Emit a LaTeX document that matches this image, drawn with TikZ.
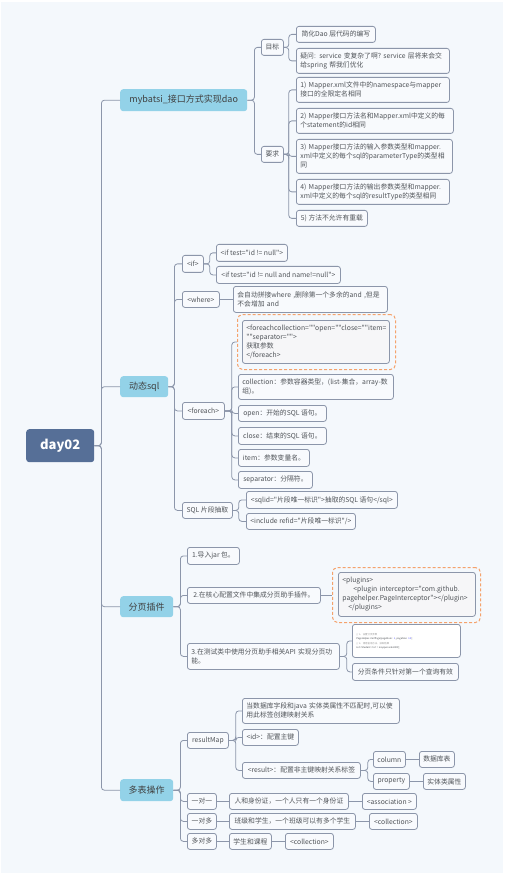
\documentclass[tikz,border=0pt]{standalone}
\usepackage{fontspec}
\setmainfont{Noto Sans CJK SC}[Ligatures=TeXOff]
\definecolor{bgc}{HTML}{F4F8FC}
\definecolor{linec}{HTML}{8C96AA}
\definecolor{boxf}{HTML}{F8FAFD}
\definecolor{codef}{HTML}{F6F6F8}
\definecolor{txtc}{HTML}{505459}
\definecolor{lonec}{HTML}{93D2E8}
\definecolor{dayc}{HTML}{566F97}
\definecolor{orc}{HTML}{F4A26C}
\newcommand\fsa{\fontsize{6.8}{9}\selectfont}
\newcommand\fsb{\fontsize{9}{11}\selectfont}
\newcommand\fsc{\fontsize{13}{15}\selectfont\bfseries}
\newcommand\fst{\fontsize{2.4}{4}\selectfont}
\begin{document}
\begin{tikzpicture}[x=1pt,y=-1pt,
  box/.style={draw=linec, fill=boxf, rounded corners=2.5pt, line width=0.8pt, text=txtc,
    font=\fsa, inner xsep=4pt, inner ysep=1pt, anchor=north west, align=left},
  codebox/.style={box, fill=codef},
  dashbox/.style={draw=orc, dashed, line width=1pt, rounded corners=5pt, dash pattern=on 3pt off 2pt},
  lone/.style={fill=lonec, rounded corners=3pt, text=black!75, font=\fsb, anchor=north west, inner sep=0pt},
  root/.style={fill=dayc, rounded corners=3pt, text=white, font=\fsc, anchor=north west, inner sep=0pt},
  conn/.style={draw=linec, line width=0.8pt, rounded corners=3pt}]
\useasboundingbox (0,0) rectangle (504,874);
\fill[white] (0,0) rectangle (504,874);
\fill[bgc] (1,2) rectangle (503,873);

% root and first level
\node[root, minimum width=68pt, minimum height=33pt] (day) at (26,429) {day02};
\node[lone, minimum width=127pt, minimum height=22pt] (mb) at (120,89) {mybatsi\_接口方式实现dao};
\node[lone, minimum width=48pt, minimum height=21pt] (dsql) at (120,376) {动态sql};
\node[lone, minimum width=53pt, minimum height=21pt] (fy) at (120,596) {分页插件};
\node[lone, minimum width=53pt, minimum height=22pt] (db) at (120,779) {多表操作};

% mybatis branch
\node[box, minimum width=22pt, minimum height=16pt, inner xsep=0pt] (goal) at (261,39) {目标};
\node[box, minimum width=22pt, minimum height=16pt, inner xsep=0pt] (req) at (261,146) {要求};
\node[box, minimum width=79pt, minimum height=16pt] (g1) at (296,26) {简化Dao 层代码的编写};
\node[box, text width=145pt, minimum height=25pt] (g2) at (296,48) {疑问: service\ 变复杂了啊?\ service 层将来会交\\给spring 帮我们优化};
\node[box, text width=145pt, minimum height=25pt] (r1) at (296,77) {1)~Mapper.xml文件中的namespace与mapper\\接口的全限定名相同};
\node[box, text width=149pt, minimum height=25pt] (r2) at (296,108) {2)~Mapper接口方法名和Mapper.xml中定义的每\\个statement的id相同};
\node[box, text width=148pt, minimum height=34pt] (r3) at (296,139) {3)~Mapper接口方法的输入参数类型和mapper.\\xml中定义的每个sql的parameterType的类型相\\同};
\node[box, text width=145pt, minimum height=25pt] (r4) at (296,179) {4)~Mapper接口方法的输出参数类型和mapper.\\xml中定义的每个sql的resultType的类型相同};
\node[box, minimum width=71pt, minimum height=16pt] (r5) at (296,210) {5) 方法不允许有重载};

% dynamic sql branch
\node[box, minimum width=21pt, minimum height=17pt, inner xsep=0pt] (ifn) at (182,255) {<if>};
\node[box, minimum width=71pt, minimum height=17pt] (if1) at (216,244) {<if test="id != null">};
\node[box, minimum width=124pt, minimum height=17pt] (if2) at (216,266) {<if test="id != null and name!=null">};
\node[box, minimum width=37pt, minimum height=16pt] (wh) at (182,291) {<where>};
\node[box, text width=146pt, minimum height=26pt] (wht) at (233,286) {会自动拼接where\ ,删除第一个多余的and ,但是\\不会增加 and};
\node[box, minimum width=42pt, minimum height=17pt, inner xsep=0pt] (fe) at (182,402) {<foreach>};
\node[codebox, text width=139pt, minimum height=43pt] (fcode) at (242,320) {<foreachcollection=""open=""close=""item=\\""separator="">\\获取参数\\</foreach>};
\node[dashbox, minimum width=158pt, minimum height=55pt, anchor=north west] (fcodeo) at (237,314) {};
\node[box, text width=147pt, minimum height=25pt] (fcol) at (238,374) {collection：参数容器类型，(list-集合，array-数\\组)。};
\node[box, minimum width=88pt, minimum height=16pt] (fopen) at (238,405) {open：开始的SQL 语句。};
\node[box, minimum width=88pt, minimum height=17pt] (fclose) at (238,427) {close：结束的SQL 语句。};
\node[box, minimum width=71pt, minimum height=17pt] (fitem) at (238,449) {item：参数变量名。};
\node[box, minimum width=74pt, minimum height=17pt] (fsep) at (238,471) {separator：分隔符。};
\node[box, minimum width=50pt, minimum height=16pt, inner xsep=0pt] (sqln) at (182,502) {SQL 片段抽取};
\node[box, minimum width=151pt, minimum height=17pt] (sql1) at (246,491) {<sqlid="片段唯一标识">抽取的SQL 语句</sql>};
\node[box, minimum width=109pt, minimum height=16pt] (sql2) at (246,513) {<include refid="片段唯一标识"/>};

% paging branch
\node[box, minimum width=52pt, minimum height=17pt] (p1) at (187,547) {1.导入jar 包。};
\node[box, minimum width=133pt, minimum height=16pt] (p2) at (187,587) {2.在核心配置文件中集成分页助手插件。};
\node[codebox, text width=129pt, minimum height=44pt] (plug) at (338,572) {<plugins>\\\hspace*{11pt}<plugin interceptor="com.github.\\pagehelper.PageInterceptor"></plugin>\\\hspace*{6pt}</plugins>};
\node[dashbox, minimum width=148pt, minimum height=55pt, anchor=north west] (plugo) at (332,567) {};
\node[box, text width=144pt, minimum height=26pt] (p3) at (187,643) {3.在测试类中使用分页助手相关API 实现分页功\\能。};
\node[box, fill=white, text width=100pt, minimum height=33pt, font=\fst, align=left] (pimg) at (352,624)
  {\textcolor{black!40}{// 1、设置分页参数}\\PageHelper.startPage(pageNum: \textcolor{blue!70}{1}, pageSize: \textcolor{blue!70}{10});\\[1pt]\textcolor{black!40}{// 2、调用查询方法，获取结果}\\List<Student> list = mapper.selectAll();};
\node[box, minimum width=106pt, minimum height=17pt] (pnote) at (352,663) {分页条件只针对第一个查询有效};

% multi-table branch
\node[box, minimum width=41pt, minimum height=16pt, inner xsep=0pt] (rm) at (187,732) {resultMap};
\node[box, text width=149pt, minimum height=25pt] (rm1) at (242,698) {当数据库字段和java 实体类属性不匹配时,可以使\\用此标签创建映射关系};
\node[box, minimum width=56pt, minimum height=16pt] (rm2) at (242,729) {<id>：配置主键};
\node[box, minimum width=118pt, minimum height=16pt] (rm3) at (242,762) {<result>：配置非主键映射关系标签};
\node[box, minimum width=32pt, minimum height=16pt, inner xsep=0pt] (col) at (373,751) {column};
\node[box, minimum width=35pt, minimum height=16pt, inner xsep=0pt] (colv) at (419,751) {数据库表};
\node[box, minimum width=36pt, minimum height=16pt, inner xsep=0pt] (prop) at (373,773) {property};
\node[box, minimum width=42pt, minimum height=16pt, inner xsep=0pt] (propv) at (423,773) {实体类属性};
\node[box, minimum width=29pt, minimum height=16pt, inner xsep=0pt] (o1) at (187,793) {一对一};
\node[box, minimum width=119pt, minimum height=16pt] (o1t) at (229,793) {人和身份证，一个人只有一个身份证};
\node[box, minimum width=54pt, minimum height=16pt, inner xsep=0pt] (o1c) at (362,793) {<association >};
\node[box, minimum width=29pt, minimum height=16pt, inner xsep=0pt] (o2) at (187,813) {一对多};
\node[box, minimum width=126pt, minimum height=16pt] (o2t) at (229,813) {班级和学生，一个班级可以有多个学生};
\node[box, minimum width=48pt, minimum height=16pt, inner xsep=0pt] (o2c) at (369,813) {<collection>};
\node[box, minimum width=29pt, minimum height=16pt, inner xsep=0pt] (o3) at (187,833) {多对多};
\node[box, minimum width=42pt, minimum height=16pt, inner xsep=0pt] (o3t) at (229,833) {学生和课程};
\node[box, minimum width=48pt, minimum height=16pt, inner xsep=0pt] (o3c) at (285,833) {<collection>};

% connectors
\foreach \c in {mb,dsql,fy,db} \draw[conn] (day.east) -- ++(7,0) |- (\c.west);
\foreach \c in {goal,req} \draw[conn] (mb.east) -- ++(7,0) |- (\c.west);
\foreach \c in {g1,g2} \draw[conn] (goal.east) -- ++(5,0) |- (\c.west);
\foreach \c in {r1,r2,r3,r4,r5} \draw[conn] (req.east) -- ++(5,0) |- (\c.west);
\foreach \c in {ifn,wh,fe,sqln} \draw[conn] (dsql.east) -- ++(6,0) |- (\c.west);
\foreach \c in {if1,if2} \draw[conn] (ifn.east) -- ++(6,0) |- (\c.west);
\draw[conn] (wh.east) -- (wh.east -| wht.west);
\foreach \c in {fcodeo,fcol,fopen,fclose,fitem,fsep} \draw[conn] (fe.east) -- ++(7,0) |- (\c.west);
\foreach \c in {sql1,sql2} \draw[conn] (sqln.east) -- ++(6,0) |- (\c.west);
\foreach \c in {p1,p2,p3} \draw[conn] (fy.east) -- ++(7,0) |- (\c.west);
\draw[conn] (p2.east) -- (p2.east -| plugo.west);
\foreach \c in {pimg,pnote} \draw[conn] (p3.east) -- ++(7,0) |- (\c.west);
\foreach \c in {rm,o1,o2,o3} \draw[conn] (db.east) -- ++(7,0) |- (\c.west);
\foreach \c in {rm1,rm2,rm3} \draw[conn] (rm.east) -- ++(7,0) |- (\c.west);
\foreach \c in {col,prop} \draw[conn] (rm3.east) -- ++(7,0) |- (\c.west);
\draw[conn] (col.east) -- (colv.west);
\draw[conn] (prop.east) -- (propv.west);
\draw[conn] (o1.east) -- (o1t.west);
\draw[conn] (o1t.east) -- (o1c.west);
\draw[conn] (o2.east) -- (o2t.west);
\draw[conn] (o2t.east) -- (o2c.west);
\draw[conn] (o3.east) -- (o3t.west);
\draw[conn] (o3t.east) -- (o3c.west);
\end{tikzpicture}
\end{document}
